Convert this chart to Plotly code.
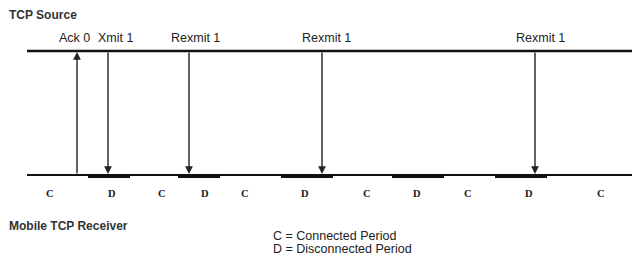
import plotly.graph_objects as go

# ---- data ----
event_labels = ["Ack 0", "Xmit 1", "Rexmit 1", "Rexmit 1", "Rexmit 1"]
event_times = [77, 108, 189, 322, 535]
event_up = [True, False, False, False, False]
event_label_x = [74, 115, 195, 326, 540]

period_labels = ["C", "D", "C", "D", "C", "D", "C", "D", "C", "D", "C"]
period_bounds = [27, 88, 130, 178, 220, 281, 333, 392, 444, 495, 547, 632]
period_label_x = [50, 112, 162, 205, 245, 305, 367, 417, 468, 529, 601]

legend_lines = ["C = Connected Period", "D = Disconnected Period"]

SRC_Y = 51
RCV_Y = 175

fig = go.Figure()

# source and receiver timelines
fig.add_trace(go.Scatter(x=[period_bounds[0], period_bounds[-1]], y=[SRC_Y, SRC_Y],
                         mode="lines", line=dict(color="#111", width=2.6), hoverinfo="skip"))
fig.add_trace(go.Scatter(x=[period_bounds[0], period_bounds[-1]], y=[RCV_Y, RCV_Y],
                         mode="lines", line=dict(color="#111", width=2), hoverinfo="skip"))

# disconnected periods (thicker segments)
for i, lab in enumerate(period_labels):
    if lab == "D":
        fig.add_trace(go.Scatter(x=[period_bounds[i], period_bounds[i + 1]], y=[RCV_Y + 1.2, RCV_Y + 1.2],
                                 mode="lines", line=dict(color="#111", width=3.6), hoverinfo="skip"))

annotations = []
# event arrows
for t, up in zip(event_times, event_up):
    if up:
        annotations.append(dict(x=t, y=SRC_Y + 1, ax=t, ay=RCV_Y, xref="x", yref="y", axref="x", ayref="y",
                                showarrow=True, arrowhead=2, arrowsize=1.1, arrowwidth=1.4, arrowcolor="#222",
                                text=""))
    else:
        annotations.append(dict(x=t, y=RCV_Y - 1, ax=t, ay=SRC_Y, xref="x", yref="y", axref="x", ayref="y",
                                showarrow=True, arrowhead=2, arrowsize=1.1, arrowwidth=1.4, arrowcolor="#222",
                                text=""))

# event labels
for lx, lab in zip(event_label_x, event_labels):
    annotations.append(dict(x=lx, y=38, xref="x", yref="y", text=lab, showarrow=False,
                            font=dict(family="Liberation Sans", size=12.5, color="#222")))

# period labels
for px, lab in zip(period_label_x, period_labels):
    annotations.append(dict(x=px, y=193, xref="x", yref="y", text="<b>" + lab + "</b>", showarrow=False,
                            font=dict(family="Liberation Serif", size=10.5, color="#222")))

# titles
annotations.append(dict(x=7, y=15, xref="x", yref="y", text="<b>TCP Source</b>", showarrow=False, xanchor="left",
                        font=dict(family="Liberation Sans", size=12, color="#333")))
annotations.append(dict(x=7, y=226, xref="x", yref="y", text="<b>Mobile TCP Receiver</b>", showarrow=False,
                        xanchor="left", font=dict(family="Liberation Sans", size=12, color="#333")))

# legend text
for i, line in enumerate(legend_lines):
    annotations.append(dict(x=271, y=236 + 13 * i, xref="x", yref="y", text=line, showarrow=False, xanchor="left",
                            font=dict(family="Liberation Sans", size=12.5, color="#222")))

fig.update_layout(
    width=632, height=257,
    margin=dict(l=0, r=0, t=0, b=0),
    paper_bgcolor="white", plot_bgcolor="white",
    showlegend=False,
    xaxis=dict(range=[0, 632], visible=False, fixedrange=True),
    yaxis=dict(range=[257, 0], visible=False, fixedrange=True),
    annotations=annotations,
)

fig.write_html("out.html", config={"displayModeBar": False, "staticPlot": True},
               post_script="document.body.style.margin='0';document.body.style.overflow='hidden';")
